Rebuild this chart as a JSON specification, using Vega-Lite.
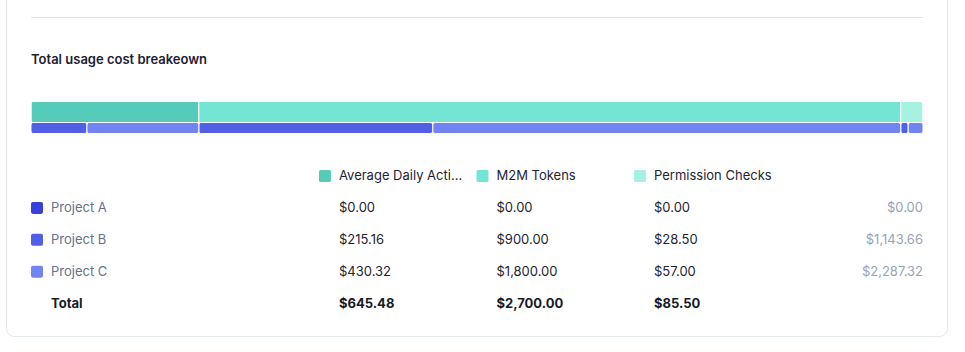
{
  "$schema": "https://vega.github.io/schema/vega-lite/v6.json",
  "autosize": {"type": "none"},
  "width": 941,
  "height": 346,
  "padding": {"left": 6, "top": -10, "right": 18, "bottom": 6},
  "background": "white",
  "config": {
    "view": {"stroke": "#e2e7ee", "strokeWidth": 1, "cornerRadius": 8, "fill": "white"},
    "font": "Inter",
    "text": {"font": "Inter", "fontSize": 13}
  },
  "datasets": {
    "costs": [
      {"project": "Project A", "category": "Average Daily Active Users", "value": 0},
      {"project": "Project A", "category": "M2M Tokens", "value": 0},
      {"project": "Project A", "category": "Permission Checks", "value": 0},
      {"project": "Project B", "category": "Average Daily Active Users", "value": 215.16},
      {"project": "Project B", "category": "M2M Tokens", "value": 900},
      {"project": "Project B", "category": "Permission Checks", "value": 28.5},
      {"project": "Project C", "category": "Average Daily Active Users", "value": 430.32},
      {"project": "Project C", "category": "M2M Tokens", "value": 1800},
      {"project": "Project C", "category": "Permission Checks", "value": 57}
    ]
  },
  "data": {"name": "costs"},
  "layer": [
    {
      "data": {"values": [{"label": "Total usage cost breakeown"}]},
      "layer": [
        {
          "mark": {"type": "rule", "color": "#e2e7ee", "strokeWidth": 1},
          "encoding": {
            "x": {"datum": 0, "type": "quantitative", "scale": {"domain": [0, 1], "range": [25, 917]}, "axis": null},
            "x2": {"datum": 1},
            "y": {"datum": "separator", "type": "nominal", "scale": {"type": "point", "domain": ["separator", "title"], "range": [27.5, 69.5], "padding": 0}, "axis": null}
          }
        },
        {
          "mark": {"type": "text", "align": "left", "baseline": "middle", "fontSize": 13, "fontWeight": 600, "color": "#1b2130"},
          "encoding": {
            "x": {"datum": 0, "type": "quantitative"},
            "y": {"datum": "title", "type": "nominal"},
            "text": {"field": "label"}
          }
        }
      ]
    },
    {
      "layer": [
        {
          "mark": {"type": "bar", "height": 21, "cornerRadius": 2.5, "stroke": "white", "strokeWidth": 1},
          "encoding": {
            "x": {"aggregate": "sum", "field": "value", "type": "quantitative", "stack": "zero", "scale": {"range": [25, 917], "nice": false, "zero": true}, "axis": null},
            "y": {"datum": "by category", "type": "nominal", "scale": {"type": "band", "domain": ["by category", "by project"], "range": [114, 146], "paddingInner": 0, "paddingOuter": 0}, "axis": null},
            "color": {"field": "category", "type": "nominal", "scale": {"domain": ["Average Daily Active Users", "M2M Tokens", "Permission Checks"], "range": ["#56cbb9", "#74e4d3", "#a5f2e1"]}, "legend": null},
            "order": {"field": "category", "type": "ordinal", "sort": "ascending"}
          }
        },
        {
          "transform": [
            {"stack": "value", "groupby": [], "sort": [{"field": "category", "order": "ascending"}, {"field": "project", "order": "ascending"}], "as": ["start", "end"]},
            {"filter": "datum.value > 0"}
          ],
          "mark": {"type": "bar", "height": 11, "cornerRadius": 2.5, "stroke": "white", "strokeWidth": 1},
          "encoding": {
            "x": {"field": "start", "type": "quantitative"},
            "x2": {"field": "end"},
            "y": {"datum": "by project", "type": "nominal"},
            "color": {"field": "project", "type": "nominal", "scale": {"domain": ["Project A", "Project B", "Project C"], "range": ["#3b3fdc", "#4f5fe6", "#7085f1"]}, "legend": null}
          }
        }
      ],
      "resolve": {"scale": {"color": "independent"}}
    },
    {
      "layer": [
        {
          "transform": [{"aggregate": [{"op": "sum", "field": "value", "as": "total"}], "groupby": ["category"]}],
          "layer": [
            {
              "mark": {"type": "point", "shape": "M0.3,-1 L1.7,-1 Q2,-1 2,-0.7 L2,0.7 Q2,1 1.7,1 L0.3,1 Q0,1 0,0.7 L0,-0.7 Q0,-1 0.3,-1 Z", "filled": true, "size": 144, "opacity": 1},
              "encoding": {
                "x": {"field": "category", "type": "nominal", "scale": {"type": "point", "domain": ["Average Daily Active Users", "M2M Tokens", "Permission Checks"], "range": [313, 628], "padding": 0}, "axis": null},
                "y": {"datum": "legend", "type": "nominal", "scale": {"type": "point", "domain": ["legend", "Project A", "Project B", "Project C", "Total"], "range": [186, 313.5], "padding": 0}, "axis": null},
                "color": {"field": "category", "type": "nominal", "scale": {"domain": ["Average Daily Active Users", "M2M Tokens", "Permission Checks"], "range": ["#56cbb9", "#74e4d3", "#a5f2e1"]}, "legend": null}
              }
            },
            {
              "mark": {"type": "text", "align": "left", "baseline": "middle", "dx": 20, "limit": 126, "color": "#1e2433"},
              "encoding": {
                "x": {"field": "category", "type": "nominal"},
                "y": {"datum": "legend", "type": "nominal"},
                "text": {"field": "category"}
              }
            },
            {
              "mark": {"type": "text", "align": "left", "baseline": "middle", "dx": 20, "fontWeight": 700, "color": "#161b26"},
              "encoding": {
                "x": {"field": "category", "type": "nominal"},
                "y": {"datum": "Total", "type": "nominal"},
                "text": {"field": "total", "type": "quantitative", "format": "$,.2f"}
              }
            }
          ]
        },
        {
          "mark": {"type": "text", "align": "left", "baseline": "middle", "dx": 20, "color": "#1e2433"},
          "encoding": {
            "x": {"field": "category", "type": "nominal", "scale": {"type": "point", "domain": ["Average Daily Active Users", "M2M Tokens", "Permission Checks"], "range": [313, 628], "padding": 0}, "axis": null},
            "y": {"field": "project", "type": "nominal"},
            "text": {"field": "value", "type": "quantitative", "format": "$,.2f"}
          }
        },
        {
          "transform": [{"aggregate": [{"op": "sum", "field": "value", "as": "total"}], "groupby": ["project"]}],
          "layer": [
            {
              "mark": {"type": "point", "shape": "M0.3,-1 L1.7,-1 Q2,-1 2,-0.7 L2,0.7 Q2,1 1.7,1 L0.3,1 Q0,1 0,0.7 L0,-0.7 Q0,-1 0.3,-1 Z", "filled": true, "size": 144, "opacity": 1},
              "encoding": {
                "x": {"datum": 0, "type": "quantitative", "scale": {"domain": [0, 1], "range": [25, 917]}, "axis": null},
                "y": {"field": "project", "type": "nominal"},
                "color": {"field": "project", "type": "nominal", "scale": {"domain": ["Project A", "Project B", "Project C"], "range": ["#3b3fdc", "#4f5fe6", "#7085f1"]}, "legend": null}
              }
            },
            {
              "mark": {"type": "text", "align": "left", "baseline": "middle", "dx": 20, "color": "#66718a"},
              "encoding": {
                "x": {"datum": 0, "type": "quantitative"},
                "y": {"field": "project", "type": "nominal"},
                "text": {"field": "project"}
              }
            },
            {
              "mark": {"type": "text", "align": "right", "baseline": "middle", "color": "#97a3b6"},
              "encoding": {
                "x": {"datum": 1, "type": "quantitative"},
                "y": {"field": "project", "type": "nominal"},
                "text": {"field": "total", "type": "quantitative", "format": "$,.2f"}
              }
            }
          ]
        },
        {
          "data": {"values": [{"label": "Total"}]},
          "mark": {"type": "text", "align": "left", "baseline": "middle", "dx": 20, "fontWeight": 700, "color": "#161b26"},
          "encoding": {
            "x": {"datum": 0, "type": "quantitative", "scale": {"domain": [0, 1], "range": [25, 917]}, "axis": null},
            "y": {"datum": "Total", "type": "nominal"},
            "text": {"field": "label"}
          }
        }
      ],
      "resolve": {"scale": {"x": "independent", "color": "independent"}}
    }
  ],
  "resolve": {"scale": {"x": "independent", "y": "independent", "color": "independent"}}
}
